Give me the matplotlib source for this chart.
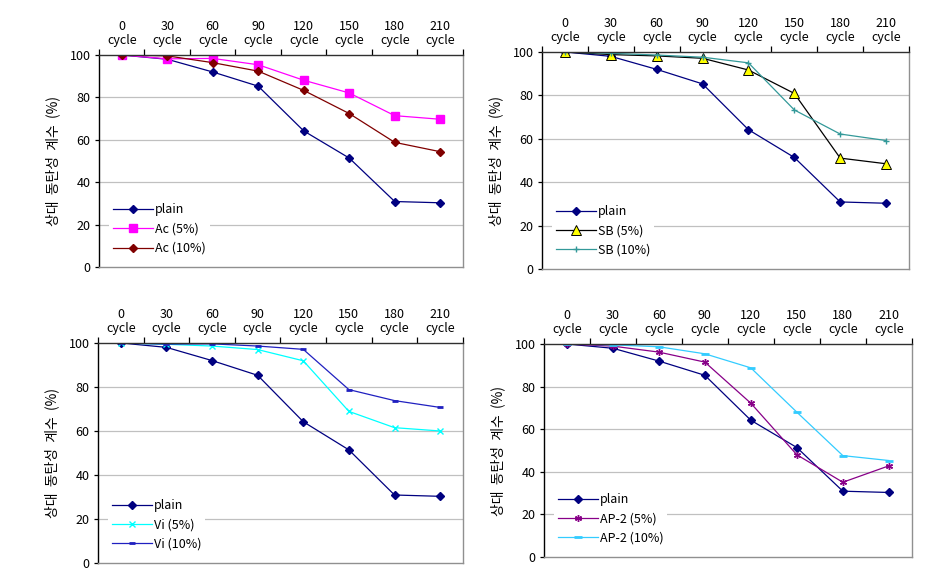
import matplotlib
matplotlib.use('Agg')
import matplotlib.pyplot as plt
import numpy as np

plt.rcParams['font.family'] = ['Noto Sans CJK KR', 'DejaVu Sans']

cycles = ['0\ncycle', '30\ncycle', '60\ncycle', '90\ncycle', '120\ncycle',
          '150\ncycle', '180\ncycle', '210\ncycle']
y_ticks = [0, 20, 40, 60, 80, 100]
y_label = '상대  동탄성  계수  (%)'

plain = [100, 98, 92, 85.3, 64.2, 51.4, 30.9, 30.3]
ac_5 = [100, 98.2, 98.4, 95.4, 88.1, 82.1, 71.4, 69.7]
ac_10 = [100, 99.6, 96.4, 92.4, 83.3, 72.4, 58.8, 54.4]
sb_5 = [100, 98.8, 98.2, 97.1, 91.7, 80.9, 51.1, 48.5]
sb_10 = [100, 99.4, 98.6, 97.6, 95.0, 73.3, 62.2, 59.2]
vi_5 = [100, 99.4, 98.6, 97.0, 91.9, 68.9, 61.5, 60.0]
vi_10 = [100, 99.5, 99.6, 98.6, 97.1, 78.8, 73.8, 70.7]
ap_5 = [100, 99.0, 96.2, 91.5, 72.2, 48.0, 35.1, 42.8]
ap_10 = [100, 99.6, 98.7, 95.4, 88.8, 68.0, 47.6, 45.3]

x = np.arange(len(cycles))

plain_style = dict(color='#000080', marker='D', markersize=4.5, label='plain')

panels = [
    ([0.1052, 0.5404, 0.3868, 0.3649],
     [(ac_5, dict(color='#FF00FF', marker='s', markersize=5.5, label='Ac (5%)')),
      (ac_10, dict(color='#800000', marker='D', markersize=4.5, label='Ac (10%)'))]),
    ([0.576, 0.537, 0.390, 0.3735],
     [(sb_5, dict(color='black', marker='^', markersize=6.5, markerfacecolor='#FFFF00',
                  markeredgecolor='black', markeredgewidth=0.7, label='SB (5%)')),
      (sb_10, dict(color='#339999', marker='+', markersize=5, label='SB (10%)'))]),
    ([0.1041, 0.031, 0.3879, 0.3787],
     [(vi_5, dict(color='#00FFFF', marker='x', markersize=4, label='Vi (5%)')),
      (vi_10, dict(color='#2020C0', marker='_', markersize=5, markeredgewidth=2, label='Vi (10%)'))]),
    ([0.578, 0.0413, 0.391, 0.3666],
     [(ap_5, dict(color='#880088', marker=(6, 2, 0), markersize=5, label='AP-2 (5%)')),
      (ap_10, dict(color='#33CCFF', marker='_', markersize=6, markeredgewidth=2, label='AP-2 (10%)'))]),
]

fig = plt.figure(figsize=(9.41, 5.81), dpi=100)

for rect, series in panels:
    ax = fig.add_axes(rect)
    ax.plot(x, plain, lw=0.9, **plain_style)
    for vals, style in series:
        ax.plot(x, vals, lw=0.9, **style)

    ax.set_xlim(-0.5, len(cycles) - 0.5)
    ax.set_ylim(0, 100)
    ax.set_yticks(y_ticks)
    for g in y_ticks[1:-1]:
        ax.axhline(g, color='#C0C0C0', lw=0.9, zorder=0)

    # categorical x axis on top, ticks between categories
    ax.xaxis.tick_top()
    ax.set_xticks(x)
    ax.set_xticklabels(cycles, fontsize=9, linespacing=1.1)
    ax.set_xticks(np.arange(-0.5, len(cycles)), minor=True)
    ax.tick_params(axis='x', which='major', length=0, pad=6)
    ax.tick_params(axis='x', which='minor', length=4, width=0.9, direction='out', top=True)
    ax.tick_params(axis='y', length=3, width=0.9, labelsize=9, pad=3)

    ax.spines['left'].set_color('black')
    ax.spines['top'].set_color('#303030')
    ax.spines['right'].set_color('#909090')
    ax.spines['bottom'].set_color('#909090')
    for s in ax.spines.values():
        s.set_linewidth(1.0)

    ax.set_ylabel(y_label, fontsize=10, labelpad=7)

    ax.legend(loc='lower left', bbox_to_anchor=(0.01, 0.01), fontsize=9,
              frameon=True, facecolor='white', edgecolor='none', framealpha=1,
              handlelength=3.2, labelspacing=0.5, handletextpad=0.2,
              borderpad=0.3, fancybox=False)

fig.savefig('out.png', dpi=100, facecolor='white')
